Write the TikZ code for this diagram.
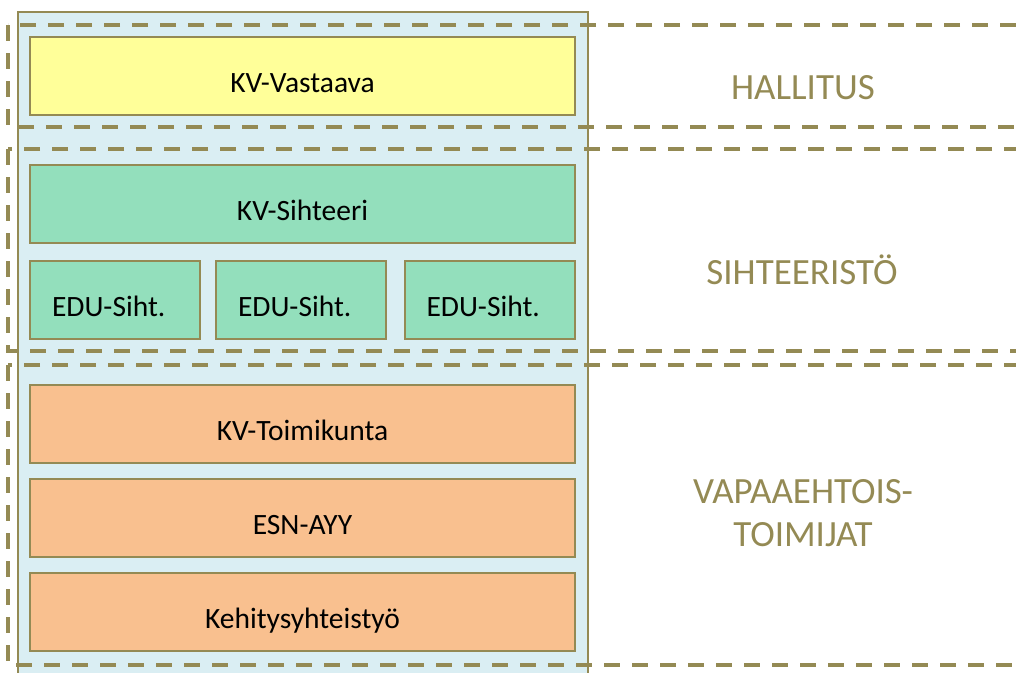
\documentclass[tikz,border=0pt]{standalone}
\usepackage{fontspec}
\setmainfont{Carlito}
\definecolor{olivegrey}{HTML}{948A54}
\definecolor{paleblue}{HTML}{DAEEF3}
\definecolor{paleyellow}{HTML}{FFFF99}
\definecolor{palegreen}{HTML}{93DFBC}
\definecolor{paleorange}{HTML}{F9C08F}

\begin{document}
\begin{tikzpicture}[x=1pt, y=-1pt,
    panel/.style = {draw=olivegrey, line width=2pt, fill=paleblue},
    unit/.style = {draw=olivegrey, line width=2pt, inner sep=0pt, minimum width=545pt, minimum height=78pt, text height=33pt, text depth=0pt, font=\fontsize{29.5}{35}\selectfont},
    edu/.style = {unit, minimum width=170pt, text width=126pt, align=left, fill=palegreen},
    band/.style = {draw=olivegrey, line width=4pt, dash pattern=on 16pt off 12pt},
    level/.style = {text=olivegrey, align=center, font=\fontsize{37}{43}\selectfont}]

    \useasboundingbox (0,0) rectangle (1016,672);

    % background
    \draw[panel] (18,12) rectangle (588,680);

    % units
    \node[unit, fill=paleyellow] (vastaava) at (302.5,76) {KV-Vastaava};
    \node[unit, fill=palegreen] (sihteeri) at (302.5,204) {KV-Sihteeri};
    \node[edu] (edu1) at (115,300) {EDU-Siht.};
    \node[edu] (edu2) at (301,300) {EDU-Siht.};
    \node[edu] (edu3) at (489.5,300) {EDU-Siht.};
    \node[unit, fill=paleorange] (toimikunta) at (302.5,424) {KV-Toimikunta};
    \node[unit, fill=paleorange] (esn) at (302.5,518) {ESN-AYY};
    \node[unit, fill=paleorange] (kehitys) at (302.5,612) {Kehitysyhteistyö};

    % levels
    \draw[band] (8,25) rectangle (1040,127);
    \draw[band] (8,149) rectangle (1040,351);
    \draw[band] (8,365) rectangle (1040,665);

    \node[level] (hallitus) at (803,88) {HALLITUS};
    \node[level] (sihteeristo) at (802,270) {SIHTEERISTÖ};
    \node[level] (vapaaehtoiset) at (803,513) {VAPAAEHTOIS-\\TOIMIJAT};

\end{tikzpicture}
\end{document}
